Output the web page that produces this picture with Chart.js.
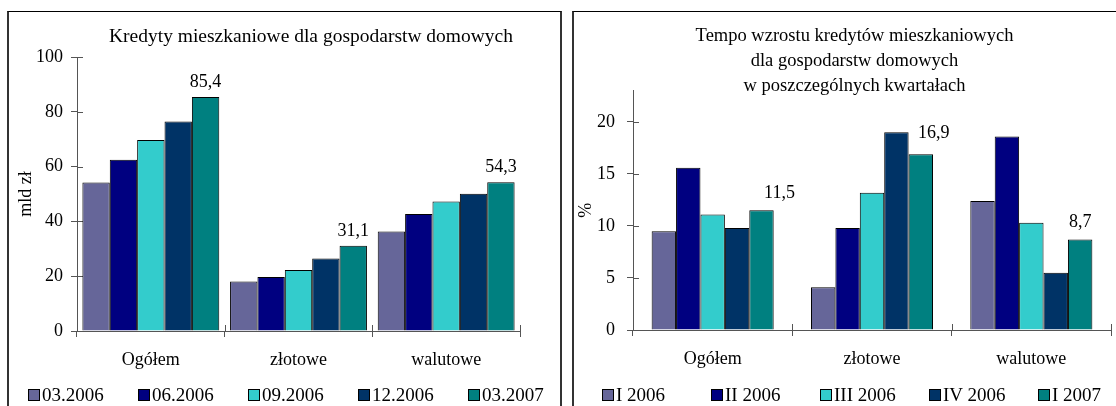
<!DOCTYPE html>
<html>
<head>
<meta charset="utf-8">
<script src="https://cdn.jsdelivr.net/npm/chart.js@4/dist/chart.umd.min.js"></script>
<style>
  body { margin: 0; background: #fff; width: 1116px; height: 406px; overflow: hidden; position: relative; }
  .box { position: absolute; top: 11px; height: 420px; border-top: 1px solid #000; border-left: 2px solid #333; border-right: 2px solid #333; }
  canvas { position: absolute; }
  .legend { position: absolute; top: 384px; height: 22px; font-family: 'Liberation Serif', 'Times New Roman', serif; font-size: 19px; color: #000; }
  .legend span.item { position: absolute; top: 0; white-space: nowrap; line-height: 22px; }
  .legend i { display: inline-block; width: 10px; height: 10px; border: 1px solid #000; margin-right: 2px; vertical-align: 0px; }
</style>
</head>
<body>
<div class="box" style="left:7px; width:551px;"></div>
<div class="box" style="left:572px; width:560px;"></div>
<canvas id="chart-stan" width="550" height="394" style="left:10px; top:12px;"></canvas>
<canvas id="chart-tempo" width="541" height="394" style="left:575px; top:12px;"></canvas>
<div class="legend" id="legend-stan"></div>
<div class="legend" id="legend-tempo"></div>
<script>
'use strict'

// ---------------------------------------------
// DONNEES
// ---------------------------------------------
const CATEGORIES = ['Ogółem', 'złotowe', 'walutowe'] ;

const STAN_SERIES = ['03.2006', '06.2006', '09.2006', '12.2006', '03.2007'] ;
const STAN_03_2006 = [54.2, 18.1, 36.3] ;
const STAN_06_2006 = [62.5, 19.7, 42.7] ;
const STAN_09_2006 = [69.7, 22.3, 47.3] ;
const STAN_12_2006 = [76.5, 26.5, 50.1] ;
const STAN_03_2007 = [85.4, 31.1, 54.3] ;
const STAN_TICKS = [0, 20, 40, 60, 80, 100] ;

const TEMPO_SERIES = ['I 2006', 'II 2006', 'III 2006', 'IV 2006', 'I 2007'] ;
const TEMPO_I_2006   = [9.5, 4.1, 12.4] ;
const TEMPO_II_2006  = [15.6, 9.8, 18.6] ;
const TEMPO_III_2006 = [11.1, 13.2, 10.3] ;
const TEMPO_IV_2006  = [9.8, 19.0, 5.5] ;
const TEMPO_I_2007   = [11.5, 16.9, 8.7] ;
const TEMPO_TICKS = [0, 5, 10, 15, 20] ;

// palette Excel
const COLORS = ['#666699', '#000080', '#33cccc', '#003366', '#008080'] ;
const FONT = "'Liberation Serif', 'Times New Roman', serif" ;
const AXIS_COLOR = '#555' ;


// ---------------------------------------------
// PLUGINS
// ---------------------------------------------

// decale le titre horizontalement
const titleShift = {
    id: 'titleShift',
    afterLayout(chart, args, opts) {
        if (chart.titleBlock && opts.dx) {
            chart.titleBlock.left += opts.dx ;
            chart.titleBlock.right += opts.dx ;
        }
    }
} ;

// graduations qui traversent l'axe (partie interieure)
const innerTicks = {
    id: 'innerTicks',
    beforeDatasetsDraw(chart, args, opts) {
        const { ctx, chartArea } = chart ;
        const len = opts.length || 6 ;
        ctx.save() ;
        ctx.strokeStyle = AXIS_COLOR ;
        ctx.lineWidth = 1 ;
        ctx.beginPath() ;
        chart.scales.y.ticks.forEach(t => {
            const y = Math.round(chart.scales.y.getPixelForValue(t.value)) + 0.5 ;
            ctx.moveTo(chartArea.left, y) ;
            ctx.lineTo(chartArea.left + len, y) ;
        }) ;
        const n = chart.data.labels.length ;
        for (let i = 0; i <= n; i++) {
            const x = Math.round(chartArea.left + i * (chartArea.right - chartArea.left) / n) + 0.5 ;
            ctx.moveTo(x, chartArea.bottom) ;
            ctx.lineTo(x, chartArea.bottom - len) ;
        }
        ctx.stroke() ;
        ctx.restore() ;
    }
} ;

// etiquettes de la derniere serie
const lastLabels = {
    id: 'lastLabels',
    afterDatasetsDraw(chart, args, opts) {
        const { ctx } = chart ;
        const idx = chart.data.datasets.length - 1 ;
        const meta = chart.getDatasetMeta(idx) ;
        const values = chart.data.datasets[idx].data ;
        ctx.save() ;
        ctx.font = `18px ${FONT}` ;
        ctx.fillStyle = '#000' ;
        ctx.textAlign = 'center' ;
        ctx.textBaseline = 'alphabetic' ;
        meta.data.forEach((bar, i) => {
            ctx.fillText(values[i].toFixed(1).replace('.', ','), bar.x + opts.dx[i], bar.y - opts.dy[i]) ;
        }) ;
        ctx.restore() ;
    }
} ;


// ---------------------------------------------
// CONSTRUCTION D'UN GRAPHIQUE
// ---------------------------------------------
function renderChart(id, cfg) {
    const ctx = document.getElementById(id) ;
    const datasets = cfg.series.map((label, i) => ({
        label,
        data: cfg.values[i],
        backgroundColor: COLORS[i],
        borderColor: '#000',
        borderWidth: 1,
        barPercentage: 1,
        categoryPercentage: cfg.catPct,
    })) ;

    new Chart(ctx, {
        type: 'bar',
        data: { labels: CATEGORIES, datasets },
        plugins: [titleShift, innerTicks, lastLabels],
        options: {
            responsive: false,
            animation: false,
            layout: { padding: { left: 0, right: cfg.padRight, top: 0, bottom: 0 } },
            plugins: {
                legend: { display: false },
                tooltip: { enabled: false },
                title: {
                    display: true,
                    text: cfg.title,
                    color: '#000',
                    font: { family: FONT, size: cfg.titleSize, weight: 'normal', lineHeight: cfg.titleLH },
                    padding: cfg.titlePad,
                },
                titleShift: { dx: cfg.titleDx },
                innerTicks: { length: 6 },
                lastLabels: { dx: cfg.labelDx, dy: cfg.labelDy },
            },
            scales: {
                x: {
                    grid: { display: true, offset: true, drawOnChartArea: false, tickLength: 6, color: AXIS_COLOR },
                    border: { display: true, color: AXIS_COLOR },
                    ticks: { color: '#000', padding: 12, font: { family: FONT, size: 18 } },
                    afterFit: scale => { scale.height = cfg.xHeight ; },
                },
                y: {
                    min: 0,
                    max: cfg.yMax,
                    afterBuildTicks: axis => { axis.ticks = cfg.ticks.map(v => ({ value: v })) ; },
                    grid: { display: true, drawOnChartArea: false, tickLength: 6, color: AXIS_COLOR },
                    border: { display: true, color: AXIS_COLOR },
                    ticks: { color: '#000', padding: cfg.tickPad, font: { family: FONT, size: 18 } },
                    title: {
                        display: true,
                        text: cfg.yTitle,
                        color: '#000',
                        font: { family: FONT, size: 18 },
                        padding: { top: cfg.yTitlePad, bottom: 0 },
                    },
                    afterFit: scale => { scale.width = cfg.yWidth ; },
                }
            }
        }
    }) ;
}

function renderLegend(id, series, left, step) {
    const el = document.getElementById(id) ;
    series.forEach((s, i) => {
        const item = document.createElement('span') ;
        item.className = 'item' ;
        item.style.left = (left + i * step) + 'px' ;
        const sw = document.createElement('i') ;
        sw.style.background = COLORS[i] ;
        item.appendChild(sw) ;
        item.appendChild(document.createTextNode(s)) ;
        el.appendChild(item) ;
    }) ;
}


// ---------------------------------------------
// GRAPHIQUE GAUCHE : encours
// ---------------------------------------------
renderChart('chart-stan', {
    series: STAN_SERIES,
    values: [STAN_03_2006, STAN_06_2006, STAN_09_2006, STAN_12_2006, STAN_03_2007],
    catPct: 0.927,
    padRight: 40,
    title: 'Kredyty mieszkaniowe dla gospodarstw domowych',
    titleSize: 19.5,
    titleLH: 1.2,
    titlePad: { top: 13.5, bottom: 8.1 },
    titleDx: 46,
    labelDx: [0, 0, 0],
    labelDy: [10, 10, 10],
    xHeight: 75,
    yMax: 100,
    ticks: STAN_TICKS,
    tickPad: 8,
    yTitle: 'mld zł',
    yTitlePad: 5,
    yWidth: 67,
}) ;

// ---------------------------------------------
// GRAPHIQUE DROIT : tempo
// ---------------------------------------------
renderChart('chart-tempo', {
    series: TEMPO_SERIES,
    values: [TEMPO_I_2006, TEMPO_II_2006, TEMPO_III_2006, TEMPO_IV_2006, TEMPO_I_2007],
    catPct: 0.766,
    padRight: 5,
    title: ['Tempo wzrostu kredytów mieszkaniowych', 'dla gospodarstw domowych', 'w poszczególnych kwartałach'],
    titleSize: 18.5,
    titleLH: 1.35,
    titlePad: { top: 11.5, bottom: -7.7 },
    titleDx: 11.5,
    labelDx: [18, 13, 0],
    labelDy: [12.5, 16, 12.5],
    xHeight: 76,
    yMax: 23,
    ticks: TEMPO_TICKS,
    tickPad: 12,
    yTitle: '%',
    yTitlePad: 0,
    yWidth: 58,
}) ;

renderLegend('legend-stan', STAN_SERIES, 28, 110) ;
renderLegend('legend-tempo', TEMPO_SERIES, 602, 109) ;
</script>
</body>
</html>
